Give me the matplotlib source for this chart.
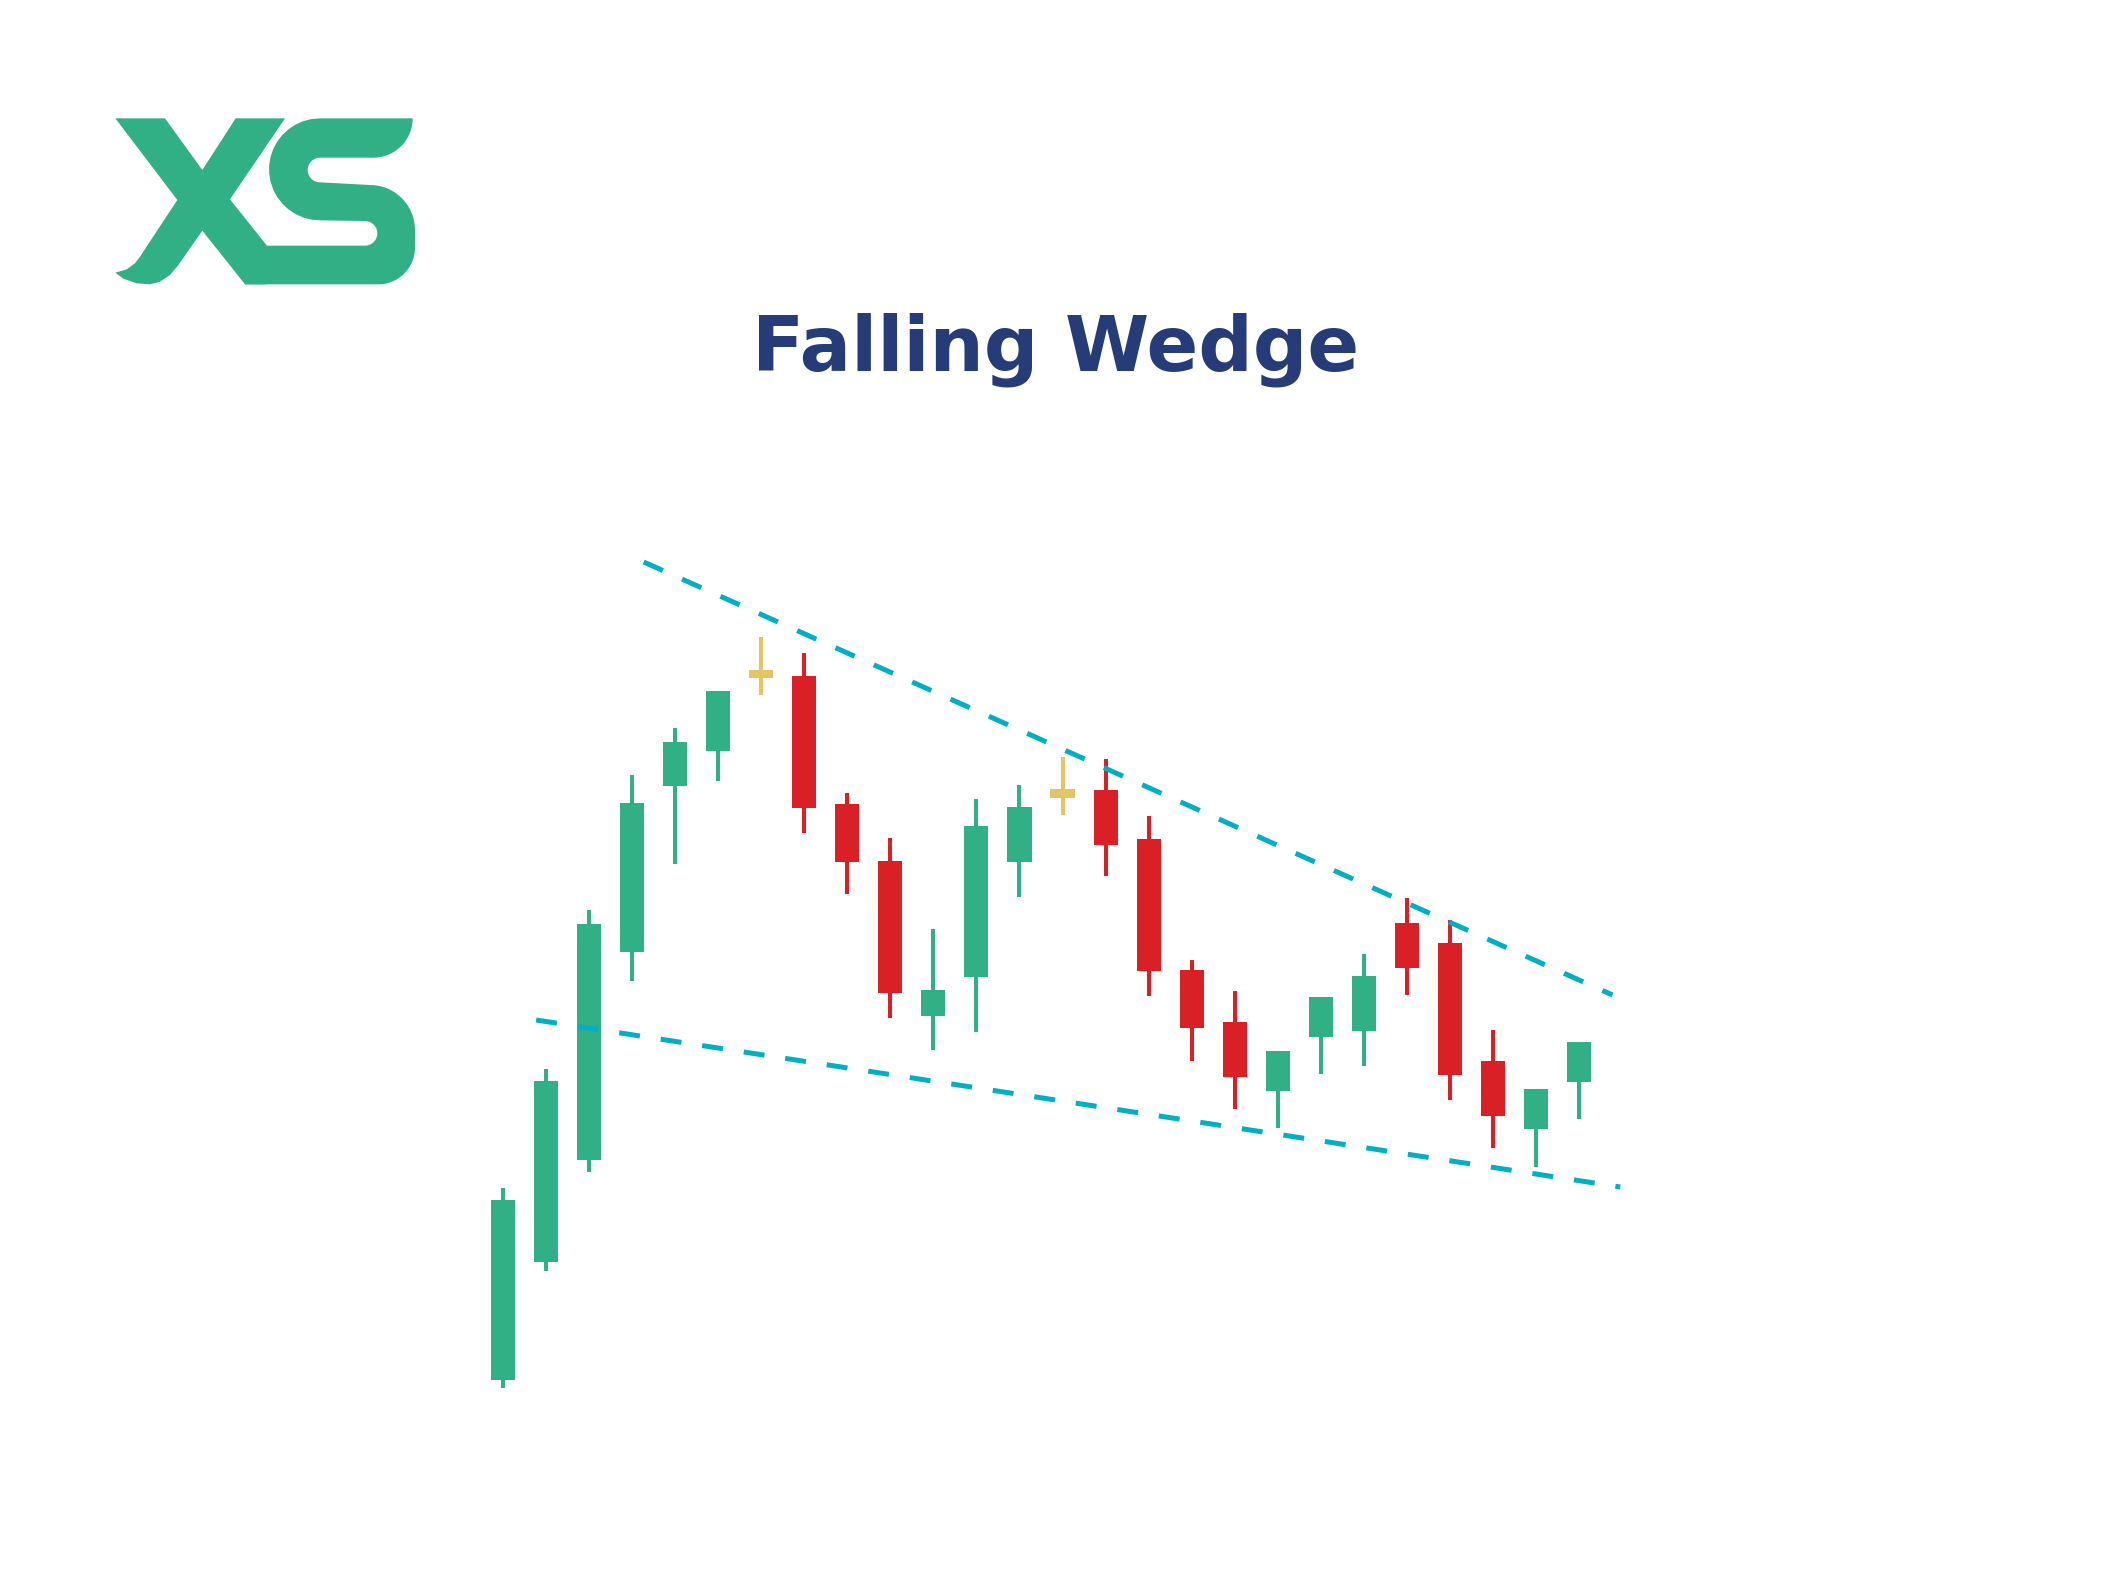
import numpy as np
import matplotlib.pyplot as plt
from matplotlib.patches import Polygon

# candle data (price units), index = bar number
opens = [12.0, 23.8, 34.0, 54.8, 71.4, 74.9, 82.2, 82.4, 69.6, 63.9, 48.4, 52.3, 63.8,
         70.2, 71.0, 66.1, 53.0, 47.8, 40.9, 46.3, 46.9, 57.7, 55.7, 43.9, 37.1, 41.8]
highs = [31.2, 43.1, 59.0, 72.5, 77.2, 80.9, 86.3, 84.7, 70.7, 66.2, 57.1, 70.1, 71.5,
         74.3, 74.1, 68.4, 54.0, 50.9, 44.9, 50.3, 54.6, 60.2, 58.0, 47.0, 41.1, 45.8]
lows = [11.2, 22.9, 32.8, 51.9, 63.6, 71.9, 80.5, 66.7, 60.6, 48.2, 45.0, 46.8, 60.3,
        68.5, 62.4, 50.4, 43.9, 39.1, 37.2, 42.6, 43.4, 50.5, 40.0, 35.2, 33.3, 38.1]
closes = [30.0, 41.9, 57.6, 69.7, 75.8, 80.9, 83.0, 69.2, 63.8, 50.7, 51.0, 67.4, 69.3,
          71.1, 65.5, 52.9, 47.2, 42.3, 44.9, 50.3, 52.4, 53.2, 42.5, 38.4, 41.1, 45.8]

# wedge trend lines (bar index, price)
upper_x = [3.27, 25.78]
upper_y = [93.8, 50.5]
lower_x = [0.77, 25.96]
lower_y = [48.0, 31.3]

GREEN = "#30B084"
RED = "#DA2027"
YELLOW = "#E3C565"
CYAN = "#00AFC3"
NAVY = "#253C78"

fig = plt.figure(figsize=(21.12, 15.73), dpi=100)
fig.patch.set_facecolor("white")

ax = fig.add_axes([0, 0, 1, 1])
ax.set_xlim(-11.687, 37.384)
ax.set_ylim(-7.3, 150)
ax.axis("off")

x = np.arange(len(opens))
o = np.array(opens)
c = np.array(closes)
colors = []
for oo, cc in zip(o, c):
    if abs(cc - oo) < 1.0:
        colors.append(YELLOW)
    elif cc > oo:
        colors.append(GREEN)
    else:
        colors.append(RED)

ax.vlines(x, lows, highs, colors=colors, linewidth=2.9, zorder=2)
ax.bar(x, np.abs(c - o), bottom=np.minimum(o, c), width=0.56,
       color=colors, linewidth=0, zorder=3)

for xs, ys in [(upper_x, upper_y), (lower_x, lower_y)]:
    ax.plot(xs, ys, color=CYAN, linewidth=3.6, dashes=(4.2, 4.2), zorder=4)

fig.text(0.5, 1 - 370.7 / 1573, "Falling Wedge", ha="center", va="baseline",
         fontsize=55, fontweight="bold", family="DejaVu Sans", color=NAVY)

# XS logo
lax = fig.add_axes([90 / 2112, 1 - 310 / 1573, 360 / 2112, 220 / 1573])
lax.set_xlim(0, 1080)
lax.set_ylim(660, 0)
lax.axis("off")


def arc(cx, cy, r, a0, a1, n=20):
    t = np.radians(np.linspace(a0, a1, n))
    return list(zip(cx + r * np.cos(t), cy + r * np.sin(t)))


x_shape = [(76, 85), (225, 85), (337, 240), (437, 85), (585, 85), (420, 328),
           (530, 466), (530, 583), (465, 583), (337, 422), (265, 525), (240, 555),
           (210, 575), (180, 583), (140, 580), (100, 566), (76, 548), (110, 538),
           (135, 520), (150, 500), (262, 330)]
lax.add_patch(Polygon(x_shape, closed=True, color=GREEN, linewidth=0))

s_shape = [(960, 85), (690, 85)]
s_shape += arc(690, 238, 153, 270, 90)
s_shape += [(825, 393)]
s_shape += arc(825, 430, 37, 270, 450)
s_shape += [(527, 467), (465, 583), (865, 583)]
s_shape += arc(865, 473, 110, 90, 0)
s_shape += arc(840, 420, 135, 0, -90)
s_shape += [(690, 277)]
s_shape += arc(690, 240, 37, 90, 270)
s_shape += [(850, 203)]
s_shape += arc(850, 85, 118, 90, 0)
lax.add_patch(Polygon(s_shape, closed=True, color=GREEN, linewidth=0))

fig.savefig("out.png", dpi=100, facecolor="white")
